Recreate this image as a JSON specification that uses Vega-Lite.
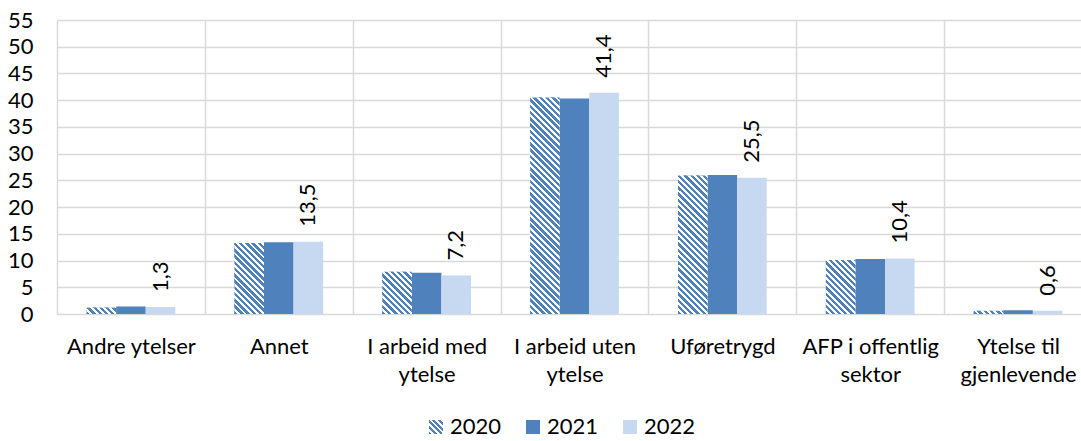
{
  "$schema": "https://vega.github.io/schema/vega-lite/v6.json",
  "autosize": {"type": "none"},
  "padding": {"left": 57, "top": 20, "right": 0, "bottom": 127},
  "width": 1024,
  "height": 294,
  "background": "#ffffff",
  "params": [
    {"name": "legendHatch", "value": {"gradient": "linear", "x1": 0, "y1": 1, "x2": 1, "y2": 0, "stops": [
      {"offset": 0, "color": "#4f81bd"}, {"offset": 0.1, "color": "#4f81bd"}, {"offset": 0.1, "color": "#ffffff"}, {"offset": 0.2, "color": "#ffffff"},
      {"offset": 0.2, "color": "#4f81bd"}, {"offset": 0.3, "color": "#4f81bd"}, {"offset": 0.3, "color": "#ffffff"}, {"offset": 0.4, "color": "#ffffff"},
      {"offset": 0.4, "color": "#4f81bd"}, {"offset": 0.5, "color": "#4f81bd"}, {"offset": 0.5, "color": "#ffffff"}, {"offset": 0.6, "color": "#ffffff"},
      {"offset": 0.6, "color": "#4f81bd"}, {"offset": 0.7, "color": "#4f81bd"}, {"offset": 0.7, "color": "#ffffff"}, {"offset": 0.8, "color": "#ffffff"},
      {"offset": 0.8, "color": "#4f81bd"}, {"offset": 0.9, "color": "#4f81bd"}, {"offset": 0.9, "color": "#ffffff"}, {"offset": 1, "color": "#ffffff"}
    ]}},
    {"name": "hatchStops", "value": [
      {"offset": 0, "color": "#4f81bd"}, {"offset": 0.0135, "color": "#4f81bd"}, {"offset": 0.0135, "color": "#ffffff"}, {"offset": 0.025, "color": "#ffffff"},
      {"offset": 0.025, "color": "#4f81bd"}, {"offset": 0.0385, "color": "#4f81bd"}, {"offset": 0.0385, "color": "#ffffff"}, {"offset": 0.05, "color": "#ffffff"},
      {"offset": 0.05, "color": "#4f81bd"}, {"offset": 0.0635, "color": "#4f81bd"}, {"offset": 0.0635, "color": "#ffffff"}, {"offset": 0.075, "color": "#ffffff"},
      {"offset": 0.075, "color": "#4f81bd"}, {"offset": 0.0885, "color": "#4f81bd"}, {"offset": 0.0885, "color": "#ffffff"}, {"offset": 0.1, "color": "#ffffff"},
      {"offset": 0.1, "color": "#4f81bd"}, {"offset": 0.1135, "color": "#4f81bd"}, {"offset": 0.1135, "color": "#ffffff"}, {"offset": 0.125, "color": "#ffffff"},
      {"offset": 0.125, "color": "#4f81bd"}, {"offset": 0.1385, "color": "#4f81bd"}, {"offset": 0.1385, "color": "#ffffff"}, {"offset": 0.15, "color": "#ffffff"},
      {"offset": 0.15, "color": "#4f81bd"}, {"offset": 0.1635, "color": "#4f81bd"}, {"offset": 0.1635, "color": "#ffffff"}, {"offset": 0.175, "color": "#ffffff"},
      {"offset": 0.175, "color": "#4f81bd"}, {"offset": 0.1885, "color": "#4f81bd"}, {"offset": 0.1885, "color": "#ffffff"}, {"offset": 0.2, "color": "#ffffff"},
      {"offset": 0.2, "color": "#4f81bd"}, {"offset": 0.2135, "color": "#4f81bd"}, {"offset": 0.2135, "color": "#ffffff"}, {"offset": 0.225, "color": "#ffffff"},
      {"offset": 0.225, "color": "#4f81bd"}, {"offset": 0.2385, "color": "#4f81bd"}, {"offset": 0.2385, "color": "#ffffff"}, {"offset": 0.25, "color": "#ffffff"},
      {"offset": 0.25, "color": "#4f81bd"}, {"offset": 0.2635, "color": "#4f81bd"}, {"offset": 0.2635, "color": "#ffffff"}, {"offset": 0.275, "color": "#ffffff"},
      {"offset": 0.275, "color": "#4f81bd"}, {"offset": 0.2885, "color": "#4f81bd"}, {"offset": 0.2885, "color": "#ffffff"}, {"offset": 0.3, "color": "#ffffff"},
      {"offset": 0.3, "color": "#4f81bd"}, {"offset": 0.3135, "color": "#4f81bd"}, {"offset": 0.3135, "color": "#ffffff"}, {"offset": 0.325, "color": "#ffffff"},
      {"offset": 0.325, "color": "#4f81bd"}, {"offset": 0.3385, "color": "#4f81bd"}, {"offset": 0.3385, "color": "#ffffff"}, {"offset": 0.35, "color": "#ffffff"},
      {"offset": 0.35, "color": "#4f81bd"}, {"offset": 0.3635, "color": "#4f81bd"}, {"offset": 0.3635, "color": "#ffffff"}, {"offset": 0.375, "color": "#ffffff"},
      {"offset": 0.375, "color": "#4f81bd"}, {"offset": 0.3885, "color": "#4f81bd"}, {"offset": 0.3885, "color": "#ffffff"}, {"offset": 0.4, "color": "#ffffff"},
      {"offset": 0.4, "color": "#4f81bd"}, {"offset": 0.4135, "color": "#4f81bd"}, {"offset": 0.4135, "color": "#ffffff"}, {"offset": 0.425, "color": "#ffffff"},
      {"offset": 0.425, "color": "#4f81bd"}, {"offset": 0.4385, "color": "#4f81bd"}, {"offset": 0.4385, "color": "#ffffff"}, {"offset": 0.45, "color": "#ffffff"},
      {"offset": 0.45, "color": "#4f81bd"}, {"offset": 0.4635, "color": "#4f81bd"}, {"offset": 0.4635, "color": "#ffffff"}, {"offset": 0.475, "color": "#ffffff"},
      {"offset": 0.475, "color": "#4f81bd"}, {"offset": 0.4885, "color": "#4f81bd"}, {"offset": 0.4885, "color": "#ffffff"}, {"offset": 0.5, "color": "#ffffff"},
      {"offset": 0.5, "color": "#4f81bd"}, {"offset": 0.5135, "color": "#4f81bd"}, {"offset": 0.5135, "color": "#ffffff"}, {"offset": 0.525, "color": "#ffffff"},
      {"offset": 0.525, "color": "#4f81bd"}, {"offset": 0.5385, "color": "#4f81bd"}, {"offset": 0.5385, "color": "#ffffff"}, {"offset": 0.55, "color": "#ffffff"},
      {"offset": 0.55, "color": "#4f81bd"}, {"offset": 0.5635, "color": "#4f81bd"}, {"offset": 0.5635, "color": "#ffffff"}, {"offset": 0.575, "color": "#ffffff"},
      {"offset": 0.575, "color": "#4f81bd"}, {"offset": 0.5885, "color": "#4f81bd"}, {"offset": 0.5885, "color": "#ffffff"}, {"offset": 0.6, "color": "#ffffff"},
      {"offset": 0.6, "color": "#4f81bd"}, {"offset": 0.6135, "color": "#4f81bd"}, {"offset": 0.6135, "color": "#ffffff"}, {"offset": 0.625, "color": "#ffffff"},
      {"offset": 0.625, "color": "#4f81bd"}, {"offset": 0.6385, "color": "#4f81bd"}, {"offset": 0.6385, "color": "#ffffff"}, {"offset": 0.65, "color": "#ffffff"},
      {"offset": 0.65, "color": "#4f81bd"}, {"offset": 0.6635, "color": "#4f81bd"}, {"offset": 0.6635, "color": "#ffffff"}, {"offset": 0.675, "color": "#ffffff"},
      {"offset": 0.675, "color": "#4f81bd"}, {"offset": 0.6885, "color": "#4f81bd"}, {"offset": 0.6885, "color": "#ffffff"}, {"offset": 0.7, "color": "#ffffff"},
      {"offset": 0.7, "color": "#4f81bd"}, {"offset": 0.7135, "color": "#4f81bd"}, {"offset": 0.7135, "color": "#ffffff"}, {"offset": 0.725, "color": "#ffffff"},
      {"offset": 0.725, "color": "#4f81bd"}, {"offset": 0.7385, "color": "#4f81bd"}, {"offset": 0.7385, "color": "#ffffff"}, {"offset": 0.75, "color": "#ffffff"},
      {"offset": 0.75, "color": "#4f81bd"}, {"offset": 0.7635, "color": "#4f81bd"}, {"offset": 0.7635, "color": "#ffffff"}, {"offset": 0.775, "color": "#ffffff"},
      {"offset": 0.775, "color": "#4f81bd"}, {"offset": 0.7885, "color": "#4f81bd"}, {"offset": 0.7885, "color": "#ffffff"}, {"offset": 0.8, "color": "#ffffff"},
      {"offset": 0.8, "color": "#4f81bd"}, {"offset": 0.8135, "color": "#4f81bd"}, {"offset": 0.8135, "color": "#ffffff"}, {"offset": 0.825, "color": "#ffffff"},
      {"offset": 0.825, "color": "#4f81bd"}, {"offset": 0.8385, "color": "#4f81bd"}, {"offset": 0.8385, "color": "#ffffff"}, {"offset": 0.85, "color": "#ffffff"},
      {"offset": 0.85, "color": "#4f81bd"}, {"offset": 0.8635, "color": "#4f81bd"}, {"offset": 0.8635, "color": "#ffffff"}, {"offset": 0.875, "color": "#ffffff"},
      {"offset": 0.875, "color": "#4f81bd"}, {"offset": 0.8885, "color": "#4f81bd"}, {"offset": 0.8885, "color": "#ffffff"}, {"offset": 0.9, "color": "#ffffff"},
      {"offset": 0.9, "color": "#4f81bd"}, {"offset": 0.9135, "color": "#4f81bd"}, {"offset": 0.9135, "color": "#ffffff"}, {"offset": 0.925, "color": "#ffffff"},
      {"offset": 0.925, "color": "#4f81bd"}, {"offset": 0.9385, "color": "#4f81bd"}, {"offset": 0.9385, "color": "#ffffff"}, {"offset": 0.95, "color": "#ffffff"},
      {"offset": 0.95, "color": "#4f81bd"}, {"offset": 0.9635, "color": "#4f81bd"}, {"offset": 0.9635, "color": "#ffffff"}, {"offset": 0.975, "color": "#ffffff"},
      {"offset": 0.975, "color": "#4f81bd"}, {"offset": 0.9885, "color": "#4f81bd"}, {"offset": 0.9885, "color": "#ffffff"}, {"offset": 1, "color": "#ffffff"}
    ]}
  ],
  "data": {"values": [
    {"cat": "Andre ytelser", "year": "2020", "pct": 1.2},
    {"cat": "Andre ytelser", "year": "2021", "pct": 1.4},
    {"cat": "Andre ytelser", "year": "2022", "pct": 1.3},
    {"cat": "Annet", "year": "2020", "pct": 13.3},
    {"cat": "Annet", "year": "2021", "pct": 13.4},
    {"cat": "Annet", "year": "2022", "pct": 13.5},
    {"cat": "I arbeid med ytelse", "year": "2020", "pct": 7.9},
    {"cat": "I arbeid med ytelse", "year": "2021", "pct": 7.7},
    {"cat": "I arbeid med ytelse", "year": "2022", "pct": 7.2},
    {"cat": "I arbeid uten ytelse", "year": "2020", "pct": 40.5},
    {"cat": "I arbeid uten ytelse", "year": "2021", "pct": 40.3},
    {"cat": "I arbeid uten ytelse", "year": "2022", "pct": 41.4},
    {"cat": "Uføretrygd", "year": "2020", "pct": 25.9},
    {"cat": "Uføretrygd", "year": "2021", "pct": 26.0},
    {"cat": "Uføretrygd", "year": "2022", "pct": 25.5},
    {"cat": "AFP i offentlig sektor", "year": "2020", "pct": 10.1},
    {"cat": "AFP i offentlig sektor", "year": "2021", "pct": 10.3},
    {"cat": "AFP i offentlig sektor", "year": "2022", "pct": 10.4},
    {"cat": "Ytelse til gjenlevende", "year": "2020", "pct": 0.6},
    {"cat": "Ytelse til gjenlevende", "year": "2021", "pct": 0.7},
    {"cat": "Ytelse til gjenlevende", "year": "2022", "pct": 0.6}
  ]},
  "encoding": {
    "x": {
      "field": "cat", "type": "nominal",
      "sort": ["Andre ytelser", "Annet", "I arbeid med ytelse", "I arbeid uten ytelse", "Uføretrygd", "AFP i offentlig sektor", "Ytelse til gjenlevende"],
      "scale": {"range": [0, 1035], "paddingInner": 0.4, "paddingOuter": 0.2},
      "axis": {
        "title": null, "orient": "bottom", "domain": false, "ticks": false, "grid": true,
        "tickOffset": -73.93, "labelOffset": 73.93,
        "labelAngle": 0, "labelPadding": 22, "labelLineHeight": 28, "labelBaseline": "top",
        "labelExpr": "datum.label == 'I arbeid med ytelse' ? ['I arbeid med', 'ytelse'] : datum.label == 'I arbeid uten ytelse' ? ['I arbeid uten', 'ytelse'] : datum.label == 'AFP i offentlig sektor' ? ['AFP i offentlig', 'sektor'] : datum.label == 'Ytelse til gjenlevende' ? ['Ytelse til', 'gjenlevende'] : datum.label"
      }
    },
    "xOffset": {"field": "year", "type": "nominal", "sort": ["2020", "2021", "2022"]},
    "y": {
      "field": "pct", "type": "quantitative",
      "scale": {"domain": [0, 55], "nice": false},
      "axis": {"title": null, "domain": false, "ticks": false, "grid": true, "values": [0, 5, 10, 15, 20, 25, 30, 35, 40, 45, 50, 55], "labelPadding": 24}
    }
  },
  "layer": [
    {
      "mark": {"type": "bar", "strokeWidth": 0},
      "encoding": {
        "color": {
          "field": "year", "type": "nominal",
          "scale": {"domain": ["2020", "2021", "2022"], "range": [{"expr": "legendHatch"}, "#4f81bd", "#c6d9f1"]},
          "legend": {
            "orient": "none", "legendX": 368, "legendY": 396, "direction": "horizontal", "title": null,
            "symbolType": "square", "symbolSize": 196, "symbolStrokeWidth": 0,
            "labelFont": "Lato", "labelFontSize": 22, "labelColor": "#000000", "labelOffset": 3, "columnPadding": 20, "padding": 0
          }
        }
      }
    },
    {
      "transform": [{"filter": "datum.year == '2020'"}],
      "mark": {
        "type": "bar", "strokeWidth": 0,
        "fill": {"expr": "{gradient: 'linear', x1: 0, y1: 1, x2: 250*29.57/(874.4 + pow(datum.pct*294/55, 2)), y2: 1 - 250*(datum.pct*294/55)/(874.4 + pow(datum.pct*294/55, 2)), stops: hatchStops}"}
      }
    },
    {
      "transform": [{"filter": "datum.year == '2022'"}],
      "mark": {"type": "text", "angle": 270, "align": "left", "baseline": "middle", "dx": 15, "font": "Lato", "fontSize": 22, "color": "#000000"},
      "encoding": {"text": {"field": "pct", "type": "quantitative", "format": ".1f"}}
    }
  ],
  "config": {
    "view": {"stroke": null},
    "locale": {"number": {"decimal": ",", "thousands": " ", "grouping": [3], "currency": ["", " kr"]}},
    "axis": {"gridColor": "#d9d9d9", "gridWidth": 1.5, "labelFont": "Lato", "labelFontSize": 22, "labelColor": "#000000"}
  }
}
